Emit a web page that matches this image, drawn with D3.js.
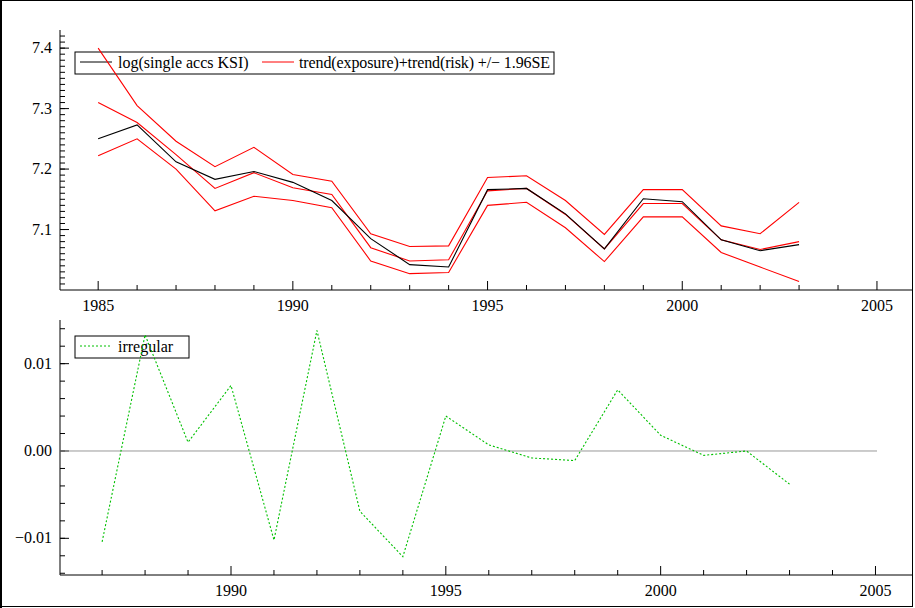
<!DOCTYPE html>
<html><head><meta charset="utf-8">
<script src="https://cdn.jsdelivr.net/npm/d3@7"></script>
<style>body{margin:0;background:#fff}</style>
</head><body>
<svg id="chart" width="915" height="608" font-family="'Liberation Serif', 'Times New Roman', serif"></svg>
<script>
const years = d3.range(1985, 2004);
const logKSI = [7.25,7.273,7.212,7.183,7.196,7.178,7.148,7.085,7.042,7.038,7.166,7.168,7.126,7.068,7.151,7.146,7.083,7.065,7.075];
const trend  = [7.31,7.277,7.224,7.168,7.194,7.169,7.158,7.07,7.048,7.05,7.164,7.168,7.125,7.068,7.143,7.143,7.083,7.067,7.08];
const upper  = [7.40,7.305,7.246,7.204,7.236,7.191,7.18,7.093,7.072,7.073,7.186,7.189,7.148,7.092,7.166,7.166,7.106,7.093,7.145];
const lower  = [7.222,7.25,7.2,7.131,7.155,7.148,7.136,7.048,7.027,7.029,7.14,7.145,7.103,7.047,7.121,7.121,7.062,7.038,7.014];
const irrYears = d3.range(1987, 2004);
const irregular = [-0.0104,0.0133,0.001,0.0075,-0.0102,0.0138,-0.0069,-0.0121,0.004,0.0007,-0.0008,-0.0011,0.007,0.0018,-0.0005,0.0,-0.0038];

const svg = d3.select("#chart");
svg.append("rect").attr("x",1).attr("y",0.5).attr("width",911.5).attr("height",606)
  .attr("fill","none").attr("stroke","#000");
svg.append("line").attr("x1",1).attr("x2",1).attr("y1",0).attr("y2",608).attr("stroke","#000").attr("stroke-width",2);

function axes(g, x, y, yTicks, yMinor, fmt) {
  const [x0, x1] = x.range(), [y0, y1] = y.range();
  g.append("line").attr("x1",x0).attr("x2",x1).attr("y1",y0).attr("y2",y0).attr("stroke","#000");
  g.append("line").attr("x1",x0).attr("x2",x0).attr("y1",y0).attr("y2",y1).attr("stroke","#000");
  const yrs = d3.range(Math.ceil(x.domain()[0]), Math.floor(x.domain()[1]) + 1);
  yrs.forEach(t => {
    const major = t % 5 === 0;
    g.append("line").attr("x1",x(t)).attr("x2",x(t)).attr("y1",y0).attr("y2",y0-(major?9:5)).attr("stroke","#000");
    if (major) g.append("text").attr("x",x(t)).attr("y",y0+21).attr("text-anchor","middle")
      .attr("font-size",16).text(t);
  });
  yMinor.forEach(v => {
    g.append("line").attr("x1",x0).attr("x2",x0+5).attr("y1",y(v)).attr("y2",y(v)).attr("stroke","#000");
  });
  yTicks.forEach(v => {
    g.append("line").attr("x1",x0).attr("x2",x0+9).attr("y1",y(v)).attr("y2",y(v)).attr("stroke","#000");
    g.append("text").attr("x",x0-8).attr("y",y(v)+5).attr("text-anchor","end")
      .attr("font-size",16).text(fmt(v));
  });
}

// top panel
const x1 = d3.scaleLinear().domain([1984.02, 2005.9]).range([60, 912]);
const y1 = d3.scaleLinear().domain([7.0, 7.43]).range([290, 30]);
const gTop = svg.append("g");
axes(gTop, x1, y1, [7.1,7.2,7.3,7.4], d3.range(7.01,7.43,0.01).map(v=>+v.toFixed(2)), d3.format(".1f"));
const leg1 = gTop.append("g");
leg1.append("rect").attr("x",75).attr("y",52).attr("width",479).attr("height",22).attr("fill","#fff").attr("stroke","#000");
leg1.append("line").attr("x1",80).attr("x2",112).attr("y1",62).attr("y2",62).attr("stroke","#000");
leg1.append("text").attr("x",118).attr("y",68).attr("font-size",16).text("log(single accs KSI)");
leg1.append("line").attr("x1",262).attr("x2",294).attr("y1",62).attr("y2",62).attr("stroke","#ff0000");
leg1.append("text").attr("x",299).attr("y",68).attr("font-size",16).attr("textLength",251).text("trend(exposure)+trend(risk) +/\u2212 1.96SE");
const line1 = d3.line().x((d,i)=>x1(years[i])).y(d=>y1(d));
[upper, trend, lower].forEach(s => gTop.append("path").attr("d", line1(s)).attr("fill","none").attr("stroke","#ff0000").attr("stroke-width",1.1));
gTop.append("path").attr("d", line1(logKSI)).attr("fill","none").attr("stroke","#000").attr("stroke-width",1.1);

// bottom panel
const x2 = d3.scaleLinear().domain([1986.02, 2005.85]).range([60, 912]);
const y2 = d3.scaleLinear().domain([-0.0142, 0.015]).range([575, 320]);
const gBot = svg.append("g");
axes(gBot, x2, y2, [-0.01,0,0.01], d3.range(-14,15,2).map(v=>v/1000), v => v===0 ? "0.00" : d3.format(".2f")(v).replace("-","\u2212"));
gBot.append("line").attr("x1",60).attr("x2",877).attr("y1",y2(0)).attr("y2",y2(0)).attr("stroke","#999");
const leg2 = gBot.append("g");
leg2.append("rect").attr("x",75).attr("y",336).attr("width",114).attr("height",22).attr("fill","#fff").attr("stroke","#000");
leg2.append("line").attr("x1",80).attr("x2",112).attr("y1",346).attr("y2",346).attr("stroke","#00c000").attr("stroke-dasharray","2,2");
leg2.append("text").attr("x",118).attr("y",352).attr("font-size",16).text("irregular");
const line2 = d3.line().x((d,i)=>x2(irrYears[i])).y(d=>y2(d));
gBot.append("path").attr("d", line2(irregular)).attr("fill","none").attr("stroke","#00c000")
  .attr("stroke-width",1.1).attr("stroke-dasharray","2,2");
</script>
</body></html>
